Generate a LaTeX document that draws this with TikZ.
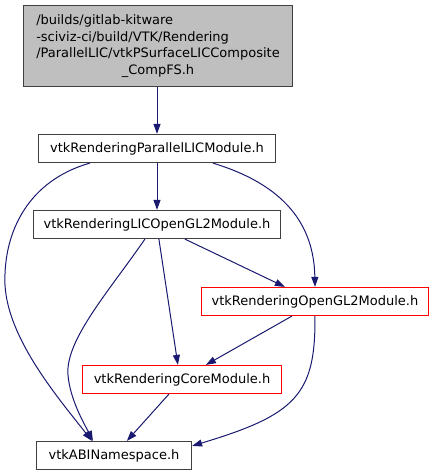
\documentclass[tikz,border=0pt]{standalone}
\usepackage{fontspec}
\setmainfont{DejaVu Sans}
\usetikzlibrary{arrows.meta,calc}
\definecolor{edgeblue}{HTML}{191970}
\definecolor{boxgrey}{HTML}{404040}
\definecolor{boxred}{HTML}{FF0000}
\definecolor{fillgrey}{HTML}{BFBFBF}
\begin{document}
\begin{tikzpicture}[x=1pt,y=-1pt,
  box/.style={draw=boxgrey, line width=1.2pt, minimum height=28pt, inner sep=0pt, font=\fontsize{13}{16.5}\selectfont},
  redbox/.style={draw=boxred, line width=1.2pt, minimum height=28pt, inner sep=0pt, font=\fontsize{13}{16.5}\selectfont},
  edge/.style={draw=edgeblue, line width=1pt, -{Triangle[length=10pt,width=7pt]}}]
\useasboundingbox (0,0) rectangle (434,476);
\node[box, fill=fillgrey, minimum width=269pt, minimum height=81pt] (top) at (158,46)
  {\begin{tabular}{@{}l@{}}/builds/gitlab-kitware\\-sciviz-ci/build/VTK/Rendering\\/ParallelLIC/vtkPSurfaceLICComposite\\\multicolumn{1}{@{}c@{}}{\_CompFS.h}\end{tabular}};
\node[box, minimum width=237pt] (pl) at (157,148.5) {vtkRenderingParallelLICModule.h};
\node[box, minimum width=247pt] (lic) at (157,224.5) {vtkRenderingLICOpenGL2Module.h};
\node[redbox, minimum width=227pt] (gl) at (315,301.5) {vtkRenderingOpenGL2Module.h};
\node[redbox, minimum width=199pt] (core) at (182,379.5) {vtkRenderingCoreModule.h};
\node[box, minimum width=155pt] (abi) at (114,455.5) {vtkABINamespace.h};
% edges
\draw[edge] (top.south -| pl.north) -- (pl.north);
\draw[edge] (pl.south) -- (lic.north);
\draw[edge] ($(pl.south west)+(52,0)$) .. controls (30,180) and (3,230) .. (5,285)
  .. controls (8,340) and (60,400) .. ($(abi.north west)+(56,0)$);
\draw[edge] ($(pl.south west)+(175,0)$) .. controls (285,185) and (314,225) .. (gl.north);
\draw[edge] ($(lic.south west)+(112,0)$) .. controls (110,290) and (65,340) .. (68,375)
  .. controls (70,400) and (85,425) .. ($(abi.north west)+(57,0)$);
\draw[edge] ($(lic.south west)+(126,0)$) -- ($(core.north west)+(96,0)$);
\draw[edge] ($(lic.south west)+(152,0)$) -- ($(gl.north west)+(84,0)$);
\draw[edge] ($(gl.south west)+(91,0)$) -- ($(core.north west)+(124,0)$);
\draw[edge] ($(gl.south west)+(114,0)$) .. controls (316,395) and (295,415) .. ($(abi.north east)+(0,5)$);
\draw[edge] ($(core.south west)+(87,0)$) -- ($(abi.north west)+(91,0)$);
\end{tikzpicture}
\end{document}
